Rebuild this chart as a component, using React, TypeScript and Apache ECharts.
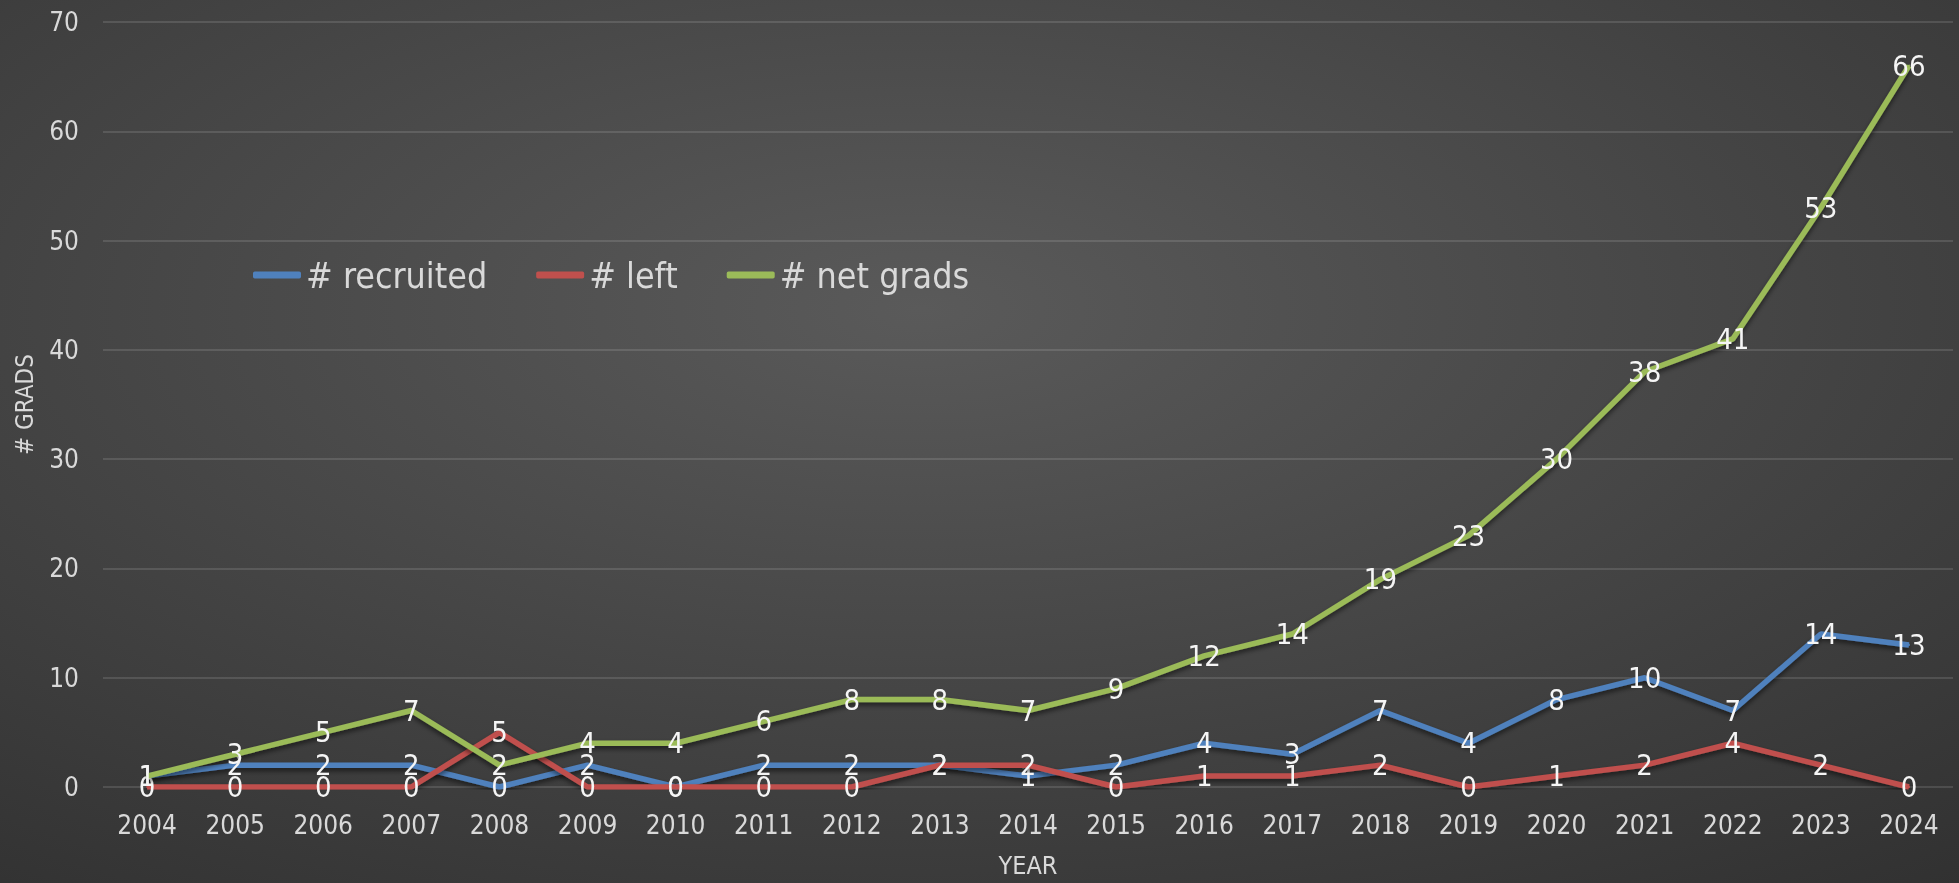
import React, { useEffect, useRef } from "react";
import * as echarts from "echarts";

const years = ["2004","2005","2006","2007","2008","2009","2010","2011","2012","2013","2014","2015","2016","2017","2018","2019","2020","2021","2022","2023","2024"];
const recruited = [1,2,2,2,0,2,0,2,2,2,1,2,4,3,7,4,8,10,7,14,13];
const left = [0,0,0,0,5,0,0,0,0,2,2,0,1,1,2,0,1,2,4,2,0];
const netGrads = [1,3,5,7,2,4,4,6,8,8,7,9,12,14,19,23,30,38,41,53,66];
const seriesNames = ["# recruited", "# left", "# net grads"];
const colors = ["#4F81BD", "#C0504D", "#9BBB59"];

const FONT = "'Liberation Sans Narrow', 'DejaVu Sans Condensed', 'Arial Narrow', sans-serif";

export default function App() {
  const ref = useRef<HTMLDivElement>(null);
  useEffect(() => {
    if (!ref.current) return;
    const chart = echarts.init(ref.current, undefined, { renderer: "svg" });
    const mk = (name: string, data: number[], color: string, z: number) => ({
      name,
      type: "line",
      data,
      z,
      symbol: "circle",
      symbolSize: 2,
      showSymbol: true,
      itemStyle: { color },
      lineStyle: {
        color,
        width: 5.5,
        shadowColor: "rgba(0,0,0,0.55)",
        shadowBlur: 5,
        shadowOffsetY: 3,
      },
      label: {
        show: true,
        position: "inside",
        color: "#f5f5f5",
        fontSize: 29,
        fontFamily: FONT,
      },
      emphasis: { disabled: true },
    });
    chart.setOption({
      animation: false,
      backgroundColor: {
        type: "radial",
        x: 0.47,
        y: 0.35,
        r: 1.15,
        colorStops: [
          { offset: 0, color: "#5a5a5a" },
          { offset: 1, color: "#222222" },
        ],
      },
      textStyle: { fontFamily: FONT },
      color: colors,
      legend: {
        data: seriesNames,
        left: 248,
        top: 252,
        icon: "roundRect",
        itemWidth: 48,
        itemHeight: 7,
        itemGap: 49,
        textStyle: { color: "#d9d9d9", fontSize: 35.5, fontFamily: FONT },
      },
      grid: { left: 103, right: 6, top: 22, bottom: 91, containLabel: false },
      xAxis: {
        type: "category",
        data: years,
        boundaryGap: true,
        axisLine: { show: false },
        axisTick: { show: false },
        axisLabel: { color: "#d9d9d9", fontSize: 26, margin: 25, fontFamily: FONT },
        name: "YEAR",
        nameLocation: "middle",
        nameGap: 66,
        nameTextStyle: { color: "#d9d9d9", fontSize: 25, fontFamily: FONT },
      },
      yAxis: {
        type: "value",
        min: 0,
        max: 70,
        interval: 10,
        axisLine: { show: false },
        axisTick: { show: false },
        axisLabel: { color: "#d9d9d9", fontSize: 26, margin: 24, fontFamily: FONT },
        splitLine: { lineStyle: { color: "rgba(255,255,255,0.12)", width: 2 } },
        name: "# GRADS",
        nameLocation: "middle",
        nameGap: 66,
        nameTextStyle: { color: "#d9d9d9", fontSize: 24, fontFamily: FONT },
      },
      series: [
        mk(seriesNames[0], recruited, colors[0], 2),
        mk(seriesNames[1], left, colors[1], 3),
        mk(seriesNames[2], netGrads, colors[2], 4),
      ],
    });
    return () => chart.dispose();
  }, []);
  return <div ref={ref} style={{ width: 1959, height: 883, position: "fixed", left: 0, top: 0 }} />;
}
